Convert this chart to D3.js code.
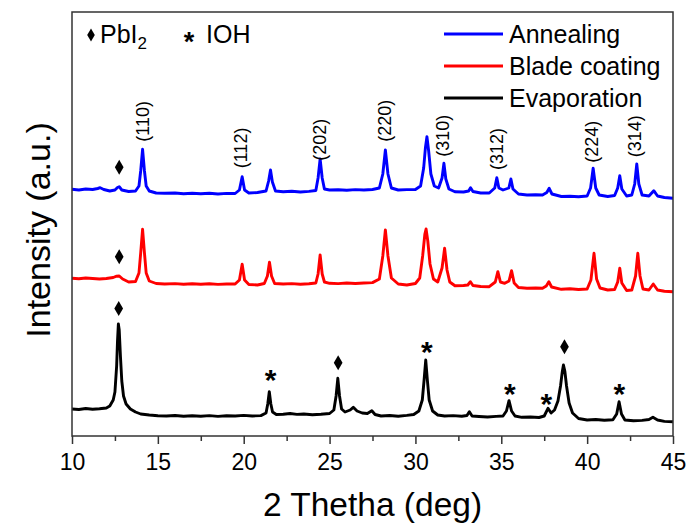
<!DOCTYPE html>
<html>
<head>
<meta charset="utf-8">
<script src="https://cdn.jsdelivr.net/npm/d3@7"></script>
<style>
body { margin: 0; background: #fff; }
svg { display: block; font-family: Arial, "Liberation Sans", sans-serif; }
</style>
</head>
<body>
<div id="wrapper"></div>
<script>
// XRD patterns, [2theta, intensity (a.u., already stacked)]
const annealing = [
  [10, 246.7], [10.4, 246], [10.8, 247], [11.2, 246.5], [11.5, 247.5], [11.64, 248.3], [11.85, 246.5],
  [12.2, 245], [12.5, 246], [12.65, 248.5], [12.75, 249.3], [12.9, 246], [13.3, 244.5], [13.7, 245],
  [13.9, 250], [14.0, 265], [14.11, 286.7], [14.22, 265], [14.32, 250], [14.5, 245], [14.9, 243],
  [15.4, 242.7], [16, 243], [16.5, 242.3], [17, 242.8], [17.5, 242.2], [18, 242.7], [18.5, 242],
  [19, 242.6], [19.5, 242.5], [19.75, 246], [19.91, 259.3], [20.05, 246], [20.3, 243], [20.8, 243.5],
  [21.3, 245], [21.45, 255], [21.56, 266], [21.67, 254], [21.85, 245], [22.3, 244.3], [22.8, 244.8],
  [23.3, 244], [23.8, 244.6], [24.2, 245.5], [24.33, 258], [24.45, 277], [24.57, 258], [24.7, 247],
  [25, 246], [25.5, 246.3], [26, 245.8], [26.5, 246.4], [27, 246], [27.5, 246.5], [27.9, 248],
  [28.1, 262], [28.25, 286], [28.4, 262], [28.6, 248], [29, 246], [29.5, 246.4], [30, 246.5],
  [30.3, 250], [30.48, 268], [30.58, 288], [30.67, 299.3], [30.77, 285], [30.9, 262], [31.1, 250],
  [31.35, 248], [31.55, 258], [31.66, 272.7], [31.77, 257], [31.95, 247], [32.3, 244.3], [32.8, 244],
  [33.1, 245], [33.21, 248.3], [33.35, 244.5], [33.8, 243], [34.3, 243], [34.62, 248], [34.74, 258.3],
  [34.86, 248], [35.1, 246], [35.44, 248], [35.56, 257], [35.68, 247], [36, 242], [36.5, 241],
  [37, 241.3], [37.4, 241], [37.65, 243.5], [37.79, 247.7], [37.95, 242], [38.5, 239.5], [39, 239.8],
  [39.5, 239.3], [40.0, 240], [40.2, 248], [40.35, 267.7], [40.5, 248], [40.7, 241], [41.2, 239.5],
  [41.6, 240.5], [41.78, 248], [41.9, 260.3], [42.02, 247], [42.3, 240], [42.6, 241], [42.77, 252],
  [42.89, 272], [43.01, 252], [43.2, 241], [43.6, 240], [43.88, 245.3], [44.1, 240], [44.5, 238.5],
  [45, 237.7]
];

const bladeCoating = [
  [10, 157.7], [10.4, 157.2], [10.8, 158], [11.2, 157.5], [11.6, 157], [12.0, 157.5], [12.4, 158.5],
  [12.6, 159.8], [12.75, 160], [12.95, 157], [13.3, 154], [13.7, 154.5], [13.9, 163], [14.0, 183],
  [14.11, 206.7], [14.22, 183], [14.32, 163], [14.5, 155], [14.9, 152.5], [15.4, 152], [16, 152.4],
  [16.5, 151.8], [17, 152.3], [17.5, 151.7], [18, 152.2], [18.5, 151.6], [19, 152], [19.5, 152],
  [19.75, 156], [19.91, 171.7], [20.05, 156], [20.3, 151.5], [20.8, 151], [21.2, 152.5], [21.38, 160],
  [21.5, 173.7], [21.62, 160], [21.8, 152.5], [22.3, 152], [22.8, 152.4], [23.3, 151.8], [23.8, 152.3],
  [24.2, 153], [24.33, 162], [24.45, 181], [24.57, 162], [24.7, 154], [25, 152.7], [25.5, 152.4],
  [26, 153], [26.5, 152.5], [27, 153], [27.5, 153.4], [27.9, 157], [28.1, 180], [28.25, 206],
  [28.4, 180], [28.6, 158], [29, 152], [29.5, 151], [30, 152.5], [30.25, 158], [30.42, 180],
  [30.55, 202], [30.62, 207], [30.72, 195], [30.85, 172], [31.05, 157], [31.3, 154], [31.55, 168],
  [31.7, 187.7], [31.84, 166], [32.0, 154], [32.3, 150.3], [32.8, 150.5], [33.05, 151], [33.2, 154.3],
  [33.35, 150.5], [33.8, 149.5], [34.3, 149.3], [34.65, 154], [34.8, 164.3], [34.95, 154], [35.2, 152.7],
  [35.45, 155], [35.6, 165.3], [35.75, 153], [36, 148.5], [36.5, 147.7], [37, 148], [37.4, 147.7],
  [37.62, 150], [37.77, 154.3], [37.93, 149], [38.5, 146.7], [39, 147.2], [39.5, 146.5], [40, 147],
  [40.22, 156], [40.4, 182.7], [40.55, 157], [40.75, 148], [41.2, 146], [41.6, 146.5], [41.78, 154],
  [41.9, 167.7], [42.02, 153], [42.3, 145.5], [42.6, 146], [42.82, 160], [42.95, 182.7], [43.08, 160],
  [43.25, 147], [43.6, 146], [43.85, 152], [44.1, 146], [44.5, 144.8], [45, 144.3]
];

const evaporation = [
  [10, 27], [10.4, 26.5], [10.8, 27.5], [11.2, 26.8], [11.6, 27.2], [12.0, 28], [12.2, 30], [12.4, 36],
  [12.5, 44], [12.6, 70], [12.65, 95], [12.7, 112], [12.75, 106], [12.82, 80], [12.9, 55], [13.0, 40],
  [13.15, 32], [13.4, 27], [13.7, 24], [14.0, 22], [14.5, 21], [15.0, 20.3], [15.5, 20], [16, 20.5],
  [16.5, 19.7], [17, 20.2], [17.5, 19.8], [18, 20.4], [18.5, 19.6], [19, 20.3], [19.5, 20], [20, 20.6],
  [20.5, 20], [21.0, 20.4], [21.3, 23], [21.4, 32], [21.49, 44.3], [21.58, 32], [21.68, 24], [21.9, 21.5],
  [22.3, 21.7], [22.7, 22.5], [23.1, 21.6], [23.5, 22], [24, 21.3], [24.5, 21.7], [25.0, 22.5], [25.25, 26],
  [25.38, 40], [25.48, 57.7], [25.58, 40], [25.7, 27], [25.9, 24], [26.2, 26], [26.38, 28.7], [26.6, 25],
  [26.9, 23], [27.2, 22.5], [27.46, 25.3], [27.65, 21.5], [28, 20], [28.5, 20.5], [29, 19.8], [29.5, 20.6],
  [29.9, 21.5], [30.2, 25], [30.4, 36], [30.5, 55], [30.6, 76], [30.7, 55], [30.8, 36], [31.0, 25],
  [31.3, 21], [31.7, 20], [32.2, 20.4], [32.7, 19.8], [33.0, 20.5], [33.14, 24.3], [33.3, 20], [33.7, 19.5],
  [34.2, 19], [34.7, 19.6], [35.1, 20], [35.3, 25], [35.45, 35.3], [35.6, 25], [35.8, 20], [36.2, 18.7],
  [36.7, 19], [37.2, 18.5], [37.5, 20], [37.72, 27.7], [37.9, 23], [38.1, 26], [38.3, 35], [38.45, 50],
  [38.55, 64], [38.62, 71], [38.7, 65], [38.8, 50], [38.95, 33], [39.15, 23], [39.5, 17.5], [40, 16],
  [40.5, 16.5], [41, 15.8], [41.5, 16.2], [41.72, 22], [41.86, 34.3], [42.0, 22], [42.2, 16], [42.7, 15.3],
  [43.2, 15.6], [43.6, 16.5], [43.83, 18.7], [44.1, 16], [44.5, 14.6], [45, 14.3]
];

const seriesNames = ["Annealing", "Blade coating", "Evaporation"];
const seriesData = [annealing, bladeCoating, evaporation];
const seriesColors = ["#0000ff", "#ff0000", "#000000"];

const xTicks = [10, 15, 20, 25, 30, 35, 40, 45];
const xMinorTicks = [12.5, 17.5, 22.5, 27.5, 32.5, 37.5, 42.5];

// perovskite reflections on the annealed pattern
const hklLabels = ["(110)", "(112)", "(202)", "(220)", "(310)", "(312)", "(224)", "(314)"];
const hklX = [14.13, 19.87, 24.44, 28.25, 31.61, 34.74, 40.26, 42.77];
const hklY = [294.3, 267.7, 275.3, 294.3, 279.3, 266, 273.3, 278.7];

// phase markers
const pbi2Marks = [[12.75, 268.7], [12.75, 179.3], [12.72, 127.5], [25.5, 73.3], [38.68, 89.3]];
const iohMarks = [[21.56, 62.7], [30.67, 91], [35.5, 49.3], [37.62, 38.7], [41.88, 49.3]];

const dimension = {
  width: 693,
  height: 527,
  margin: { top: 12, left: 72, bottom: 91, right: 20 }
};
dimension.boundedWidth = dimension.width - dimension.margin.left - dimension.margin.right;
dimension.boundedHeight = dimension.height - dimension.margin.top - dimension.margin.bottom;

const svg = d3.select("#wrapper").append("svg")
  .attr("width", dimension.width)
  .attr("height", dimension.height);

const bounded = svg.append("g")
  .attr("transform", `translate(${dimension.margin.left},${dimension.margin.top})`);

const xScaler = d3.scaleLinear().domain([10, 45]).range([0, dimension.boundedWidth]);
const yScaler = d3.scaleLinear().domain([0, 424]).range([dimension.boundedHeight, 0]);

// curves
const lineGenerator = d3.line()
  .x(d => xScaler(d[0]))
  .y(d => yScaler(d[1]));

seriesData.forEach((data, i) => {
  bounded.append("path")
    .attr("d", lineGenerator(data))
    .attr("fill", "none")
    .attr("stroke", seriesColors[i])
    .attr("stroke-width", 2.9)
    .attr("stroke-linejoin", "round");
});

// frame
bounded.append("rect")
  .attr("width", dimension.boundedWidth)
  .attr("height", dimension.boundedHeight)
  .attr("fill", "none")
  .attr("stroke", "#333")
  .attr("stroke-width", 1.5);

// x axis, major + minor ticks
const xAxis = d3.axisBottom(xScaler)
  .tickValues(xTicks)
  .tickSize(8)
  .tickPadding(10)
  .tickFormat(d3.format("d"));

const xMinor = d3.axisBottom(xScaler)
  .tickValues(xMinorTicks)
  .tickSize(5)
  .tickFormat("");

bounded.append("g")
  .attr("transform", `translate(0,${dimension.boundedHeight})`)
  .call(xAxis)
  .call(g => g.select(".domain").remove())
  .call(g => g.selectAll("line").attr("stroke", "#333").attr("stroke-width", 1.5))
  .call(g => g.selectAll("text").attr("font-size", 23).attr("fill", "#000")
    .attr("font-family", "Arial, 'Liberation Sans', sans-serif"));

bounded.append("g")
  .attr("transform", `translate(0,${dimension.boundedHeight})`)
  .call(xMinor)
  .call(g => g.select(".domain").remove())
  .call(g => g.selectAll("line").attr("stroke", "#333").attr("stroke-width", 1.5));

// axis titles
svg.append("text")
  .attr("x", dimension.margin.left + dimension.boundedWidth / 2)
  .attr("y", 516)
  .attr("text-anchor", "middle")
  .attr("font-size", 33.5)
  .text("2 Thetha (deg)");

svg.append("text")
  .attr("transform", "translate(50,230) rotate(-90)")
  .attr("text-anchor", "middle")
  .attr("font-size", 34)
  .text("Intensity (a.u.)");

// hkl labels
bounded.selectAll(".hkl")
  .data(hklLabels)
  .join("text")
  .attr("class", "hkl")
  .attr("transform", (d, i) => `translate(${xScaler(hklX[i])},${yScaler(hklY[i])}) rotate(-90)`)
  .attr("dominant-baseline", "central")
  .attr("font-size", 18)
  .text(d => d);

// markers
const diamond = d3.symbol().type(d3.symbolDiamond).size(66);
bounded.selectAll(".pbi2")
  .data(pbi2Marks)
  .join("path")
  .attr("class", "pbi2")
  .attr("d", diamond)
  .attr("transform", d => `translate(${xScaler(d[0])},${yScaler(d[1])})`)
  .attr("fill", "#000");

bounded.selectAll(".ioh")
  .data(iohMarks)
  .join("text")
  .attr("class", "ioh")
  .attr("x", d => xScaler(d[0]))
  .attr("y", d => yScaler(d[1]) + 17)
  .attr("text-anchor", "middle")
  .attr("font-size", 30)
  .attr("font-weight", "bold")
  .text("*");

// phase key, top left
const key = svg.append("g");
key.append("path")
  .attr("d", d3.symbol().type(d3.symbolDiamond).size(50)())
  .attr("transform", "translate(91,35)")
  .attr("fill", "#000");
const pbText = key.append("text").attr("x", 100).attr("y", 43).attr("font-size", 25);
pbText.append("tspan").text("PbI");
pbText.append("tspan").attr("font-size", 17).attr("dy", 6).text("2");
key.append("text")
  .attr("x", 189).attr("y", 51)
  .attr("text-anchor", "middle")
  .attr("font-size", 27)
  .attr("font-weight", "bold")
  .text("*");
key.append("text").attr("x", 206).attr("y", 43).attr("font-size", 25).text("IOH");

// series legend, top right
const legend = svg.append("g");
seriesNames.forEach((name, i) => {
  const ly = 34 + i * 32;
  legend.append("line")
    .attr("x1", 444).attr("x2", 503)
    .attr("y1", ly).attr("y2", ly)
    .attr("stroke", seriesColors[i])
    .attr("stroke-width", 3);
  legend.append("text")
    .attr("x", 509).attr("y", ly + 9)
    .attr("font-size", 25)
    .text(name);
});
</script>
</body>
</html>
